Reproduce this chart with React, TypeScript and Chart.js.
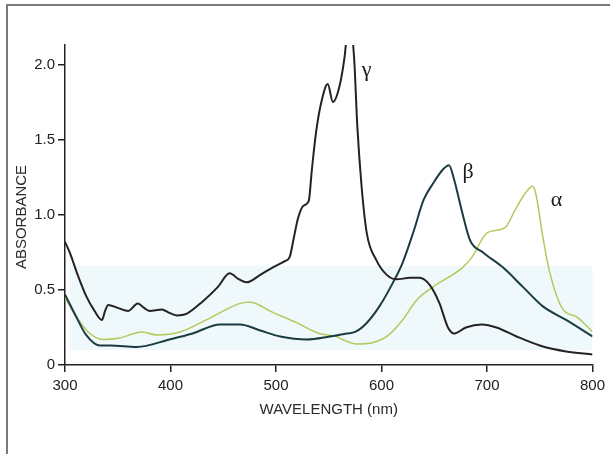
import React, { useEffect, useRef } from "react";
import { Chart, registerables } from "chart.js";

Chart.register(...registerables);

// ---- Data ----
const gammaNm = [300, 305, 312, 320, 328, 335, 338, 341, 350, 360, 369, 375, 380, 392, 398, 406, 415, 430, 445, 456, 465, 472, 485, 497, 508, 513, 517, 521, 526, 531, 534, 538, 543, 549, 554, 560, 565, 569, 574, 577, 581, 586, 595, 605, 614, 627, 636, 646, 655, 663, 669, 680, 695, 709, 728, 750, 775, 800];
const gammaAbs = [0.82, 0.74, 0.6, 0.46, 0.36, 0.3, 0.36, 0.4, 0.38, 0.36, 0.41, 0.38, 0.36, 0.37, 0.35, 0.33, 0.34, 0.42, 0.52, 0.61, 0.57, 0.55, 0.6, 0.65, 0.69, 0.72, 0.85, 0.98, 1.06, 1.09, 1.3, 1.55, 1.75, 1.87, 1.75, 1.85, 2.05, 2.3, 2.05, 1.6, 1.2, 0.88, 0.7, 0.6, 0.57, 0.58, 0.58, 0.53, 0.41, 0.25, 0.21, 0.25, 0.27, 0.25, 0.19, 0.13, 0.09, 0.07];

const betaNm = [300, 310, 320, 333, 343, 368, 399, 421, 447, 466, 485, 504, 529, 551, 567, 575, 586, 598, 611, 620, 630, 640, 649, 658, 664, 669, 676, 684, 696, 715, 734, 753, 775, 800];
const betaAbs = [0.47, 0.33, 0.2, 0.13, 0.13, 0.12, 0.17, 0.21, 0.27, 0.27, 0.23, 0.19, 0.17, 0.19, 0.21, 0.22, 0.28, 0.39, 0.55, 0.68, 0.88, 1.1, 1.21, 1.3, 1.33, 1.23, 1.03, 0.83, 0.75, 0.65, 0.52, 0.39, 0.3, 0.19];

const alphaNm = [300, 310, 322, 336, 352, 373, 387, 409, 434, 453, 466, 475, 497, 520, 541, 557, 563, 576, 592, 605, 620, 633, 649, 677, 686, 700, 712, 718, 728, 737, 743, 746, 753, 759, 772, 785, 800];
const alphaAbs = [0.45, 0.33, 0.22, 0.17, 0.18, 0.22, 0.2, 0.22, 0.3, 0.37, 0.41, 0.42, 0.35, 0.28, 0.21, 0.19, 0.17, 0.14, 0.15, 0.19, 0.3, 0.43, 0.52, 0.65, 0.72, 0.88, 0.9, 0.92, 1.05, 1.15, 1.19, 1.15, 0.85, 0.63, 0.37, 0.32, 0.22];

const xTicks = [300, 400, 500, 600, 700, 800];
const yTicks = [0, 0.5, 1.0, 1.5, 2.0];

const curveLabels = ["γ", "β", "α"];
const labelNm = [586, 682, 766];
const labelAbs = [1.96, 1.28, 1.1];

// shaded band (wavelength range and absorbance range)
const bandNm = [305, 800];
const bandAbs = [0.1, 0.66];

const SANS = "'Liberation Sans', Arial, sans-serif";

function toPoints(xs: number[], ys: number[]) {
  return xs.map((x, i) => ({ x, y: ys[i] }));
}

const bandPlugin = {
  id: "band",
  beforeDatasetsDraw(chart: any) {
    const { ctx, scales } = chart;
    const x0 = scales.x.getPixelForValue(bandNm[0]);
    const x1 = scales.x.getPixelForValue(bandNm[1]);
    const y0 = scales.y.getPixelForValue(bandAbs[1]);
    const y1 = scales.y.getPixelForValue(bandAbs[0]);
    ctx.save();
    ctx.fillStyle = "#eff9fb";
    ctx.fillRect(x0, y0, x1 - x0, y1 - y0);
    ctx.restore();
  },
};

const textPlugin = {
  id: "texts",
  afterDraw(chart: any) {
    const { ctx, scales } = chart;
    ctx.save();
    ctx.fillStyle = "#1a1a1a";
    ctx.font = "22px 'Liberation Serif', 'Times New Roman', serif";
    ctx.textAlign = "center";
    ctx.textBaseline = "middle";
    curveLabels.forEach((t, i) => {
      ctx.fillText(t, scales.x.getPixelForValue(labelNm[i]), scales.y.getPixelForValue(labelAbs[i]));
    });
    // y axis title
    ctx.font = `15px ${SANS}`;
    ctx.fillStyle = "#2a2a2a";
    ctx.translate(22, 217);
    ctx.rotate(-Math.PI / 2);
    ctx.fillText("ABSORBANCE", 0, 0);
    ctx.restore();
  },
};

export default function App() {
  const ref = useRef<HTMLCanvasElement | null>(null);

  useEffect(() => {
    if (!ref.current) return;
    const chart = new Chart(ref.current, {
      type: "line",
      data: {
        datasets: [
          {
            label: "γ",
            data: toPoints(gammaNm, gammaAbs),
            borderColor: "#262224",
            borderWidth: 2,
            pointRadius: 0,
            tension: 0.4,
            cubicInterpolationMode: "monotone",
          },
          {
            label: "β",
            data: toPoints(betaNm, betaAbs),
            borderColor: "#1b3b42",
            borderWidth: 2,
            pointRadius: 0,
            tension: 0.4,
            cubicInterpolationMode: "monotone",
          },
          {
            label: "α",
            data: toPoints(alphaNm, alphaAbs),
            borderColor: "#b6c75c",
            borderWidth: 1.5,
            pointRadius: 0,
            tension: 0.4,
            cubicInterpolationMode: "monotone",
          },
        ],
      },
      options: {
        animation: false,
        responsive: false,
        maintainAspectRatio: false,
        events: [],
        layout: { padding: { left: 0, right: 17, top: 45, bottom: 35 } },
        plugins: {
          legend: { display: false },
          tooltip: { enabled: false },
          title: { display: false },
        },
        scales: {
          x: {
            type: "linear",
            min: 300,
            max: 800,
            afterBuildTicks: (s: any) => {
              s.ticks = xTicks.map((v) => ({ value: v }));
            },
            afterFit: (s: any) => {
              s.height = 54;
            },
            ticks: {
              color: "#222",
              font: { family: SANS, size: 15 },
              padding: 5,
              maxRotation: 0,
              autoSkip: false,
            },
            grid: {
              display: true,
              drawOnChartArea: false,
              drawTicks: true,
              tickLength: 7,
              color: "#222",
              lineWidth: 1.5,
            },
            border: { display: true, color: "#222", width: 1.5 },
            title: {
              display: true,
              text: "WAVELENGTH (nm)",
              color: "#2a2a2a",
              font: { family: SANS, size: 15 },
              padding: { top: 0, bottom: 0 },
            },
          },
          y: {
            type: "linear",
            min: 0,
            max: 2.13,
            afterBuildTicks: (s: any) => {
              s.ticks = yTicks.map((v) => ({ value: v }));
            },
            afterFit: (s: any) => {
              s.width = 65;
            },
            ticks: {
              color: "#222",
              font: { family: SANS, size: 15 },
              padding: 3,
              callback: (v: any) => (v === 0 ? "0" : Number(v).toFixed(1)),
            },
            grid: {
              display: true,
              drawOnChartArea: false,
              drawTicks: true,
              tickLength: 7,
              color: "#222",
              lineWidth: 1.5,
            },
            border: { display: true, color: "#222", width: 1.5 },
          },
        },
      },
      plugins: [bandPlugin, textPlugin],
    } as any);
    return () => chart.destroy();
  }, []);

  return (
    <div style={{ position: "fixed", left: 0, top: 0, width: 610, height: 454, background: "#fff" }}>
      <div
        style={{
          position: "absolute",
          left: 6,
          top: 4,
          right: 0,
          bottom: 0,
          borderTop: "2px solid #7a7a7a",
          borderLeft: "2px solid #7a7a7a",
        }}
      />
      <canvas ref={ref} width={610} height={454} style={{ position: "absolute", left: 0, top: 0, width: 610, height: 454 }} />
    </div>
  );
}
